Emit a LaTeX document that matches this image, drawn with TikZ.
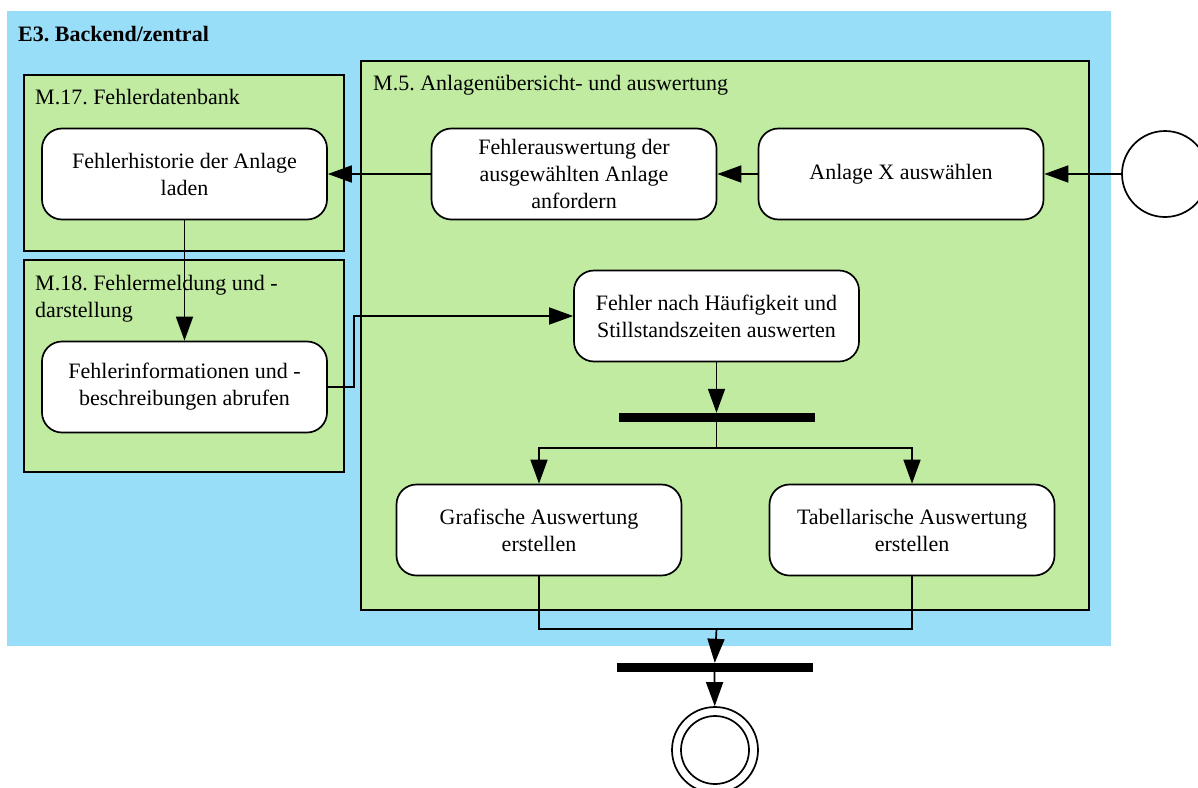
\documentclass[tikz,border=0pt]{standalone}
\usepackage{fontspec}
\setmainfont{Liberation Serif}
\usetikzlibrary{positioning,arrows.meta,calc}
\definecolor{ADBlue}{HTML}{99DEF8}
\definecolor{ADGreen}{HTML}{C0EBA0}
\frenchspacing
\tikzset{
  action/.style={draw, line width=1.7pt, fill=white, rounded corners=20pt,
                 minimum width=285pt, minimum height=91pt, align=center, inner sep=4pt},
  partition/.style={draw, line width=1.7pt, fill=ADGreen},
  lanelabel/.style={anchor=north west, align=left, inner sep=0pt},
  syncbar/.style={fill=black, minimum width=196pt, minimum height=9pt, inner sep=0pt},
  flow/.style={line width=1.7pt, -{Triangle[length=24pt,width=17pt]}},
  plainflow/.style={line width=1.7pt},
}

\begin{document}
\begin{tikzpicture}[x=1pt, y=-1pt, font=\fontsize{22}{27}\selectfont]
  \useasboundingbox (0,0) rectangle (1198,787);
  \fill[ADBlue] (7,11) rectangle (1111,646);
  \node[lanelabel, font=\fontsize{22}{27}\selectfont\bfseries] (e3) at (18,26) {E3. Backend/zentral};

  \draw[partition] (24,75) rectangle (344,251);
  \node[lanelabel] (m17) at (35,89) {M.17. Fehlerdatenbank};
  \draw[partition] (24,260) rectangle (344,472);
  \node[lanelabel] (m18) at (35,275) {M.18. Fehlermeldung und -\\darstellung};
  \draw[partition] (361,61) rectangle (1089,610);
  \node[lanelabel] (m5) at (373,75) {M.5. Anlagenübersicht- und auswertung};

  \node[action] (hist) at (184.5,174) {Fehlerhistorie der Anlage\\laden};
  \node[action] (info) at (184.5,387) {Fehlerinformationen und -\\beschreibungen abrufen};
  \node[action] (anford) at (574,174) {Fehlerauswertung der\\ausgewählten Anlage\\anfordern};
  \node[action] (anlage) at (901,174) {Anlage X auswählen};
  \node[action] (haeuf) at (716.5,316) {Fehler nach Häufigkeit und\\Stillstandszeiten auswerten};
  \node[action] (grafik) at (539,530) {Grafische Auswertung\\erstellen};
  \node[action] (tabelle) at (912,530) {Tabellarische Auswertung\\erstellen};

  \node[draw, circle, line width=1.7pt, fill=white, minimum size=86pt] (start) at (1165,174) {};
  \node[syncbar] (fork) at (716.5,417.5) {};
  \node[syncbar] (join) at (714.5,667.5) {};
  \node[draw, circle, line width=1.7pt, minimum size=86pt] (final) at (715,750) {};
  \node[draw, circle, line width=1.7pt, minimum size=68pt] (finalin) at (final) {};

  \coordinate (split) at (716.5,448);
  \coordinate (merge) at (716.5,629);

  \draw[flow] (start) -- (anlage);
  \draw[flow] (anlage) -- (anford);
  \draw[flow] (anford) -- (hist);
  \draw[flow] (hist) -- (info);
  \draw[flow] (info.east) -- ++(26,0) |- (haeuf.west);
  \draw[flow] (haeuf) -- (fork);
  \draw[plainflow] (fork.south) -- (split);
  \draw[flow] (split) -| (grafik.north);
  \draw[flow] (split) -| (tabelle.north);
  \draw[plainflow] (grafik.south) |- (merge) -| (tabelle.south);
  \draw[flow] (merge) -- (join);
  \draw[flow] (join) -- (final);
\end{tikzpicture}
\end{document}
